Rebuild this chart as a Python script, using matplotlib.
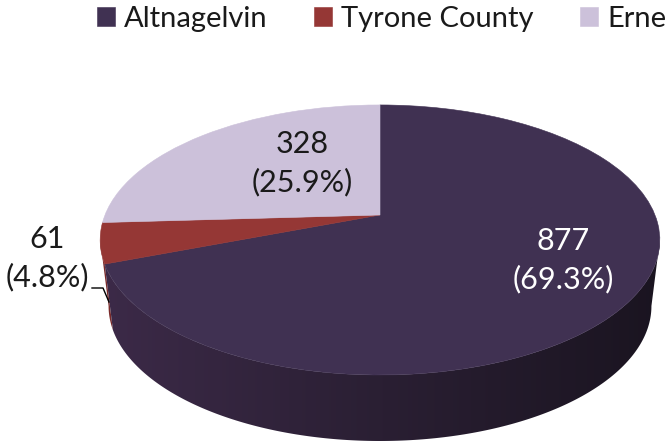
import numpy as np
import matplotlib
matplotlib.use("Agg")
import matplotlib.pyplot as plt
from matplotlib.colors import LinearSegmentedColormap
from matplotlib.patches import Polygon
from matplotlib.transforms import Transform

hospitals = ["Altnagelvin", "Tyrone County", "Erne"]
counts = [877, 61, 328]
percents = ["69.3%", "4.8%", "25.9%"]
face_colors = ["#403152", "#953735", "#CCC1DA"]

plt.rcParams["font.family"] = ["Lato", "DejaVu Sans"]

# pie centre and tilt, in picture pixels
CX, CY = 380, 215
RX, RY, K = 275, 130.4, 0.185
DEPTH, SHRINK = 66, 0.97


def project(u, v):
    x = CX + RX * u / (1 - K * v)
    y = CY + RY * v / (1 - K * v)
    return x, y


class Tilt(Transform):
    input_dims = 2
    output_dims = 2

    def transform_non_affine(self, values):
        values = np.asarray(values)
        x, y = project(values[:, 0], -values[:, 1])
        return np.column_stack([x, y])


def wall_outline(start, stop):
    angles = np.linspace(start, stop, 200)
    x, y = project(np.sin(angles), -np.cos(angles))
    low_x = CX + SHRINK * (x - CX)
    low_y = y + DEPTH
    return np.column_stack([np.r_[x, low_x[::-1]], np.r_[y, low_y[::-1]]])


fig = plt.figure(figsize=(6.67, 4.42), dpi=100)
ax = fig.add_axes([0, 0, 1, 1])

wedges, _ = ax.pie(counts, colors=face_colors, startangle=90, counterclock=False,
                   wedgeprops={"linewidth": 0.4, "zorder": 3})

tilt = Tilt()
for w, c in zip(wedges, face_colors):
    w.set_edgecolor(c)
    w.set_transform(tilt + ax.transData)


# ------------------------------------------------------------
# side wall, one left to right gradient clipped to the rim shape
# ------------------------------------------------------------
edges = np.cumsum([0] + counts) / np.sum(counts) * 2 * np.pi
wall_cmaps = [
    LinearSegmentedColormap.from_list("wall0", ["#3C2A48", "#2A1F33", "#1A1420"]),
    LinearSegmentedColormap.from_list("wall1", ["#7A2A2A", "#7A2A2A"]),
]
ramp = np.linspace(0, 1, 256).reshape(1, -1)

# only the part of the rim facing the viewer shows a wall
first_visible = np.arccos(-K)
last_visible = 2 * np.pi - first_visible

# Tyrone first, the Altnagelvin wall sits on top of it
for i in [1, 0]:
    start = max(edges[i], first_visible)
    stop = min(edges[i + 1], last_visible)
    im = ax.imshow(ramp, cmap=wall_cmaps[i], extent=(100, 665, 442, 200), aspect="auto",
                   zorder=2 + (0.1 if i == 0 else 0))
    clip = Polygon(wall_outline(start, stop), closed=True, transform=ax.transData)
    im.set_clip_path(clip)

ax.set_aspect("auto")
ax.set_xlim(0, 667)
ax.set_ylim(442, 0)
ax.axis("off")


# ------------------------------------------------------------
# labels + legend
# ------------------------------------------------------------
label_pos = [(563, 260), (47, 258), (302, 163)]
label_colors = ["white", "#1a1a1a", "#1a1a1a"]
for n, p, pos, c in zip(counts, percents, label_pos, label_colors):
    ax.text(pos[0], pos[1], f"{n}\n({p})", ha="center", va="center", color=c,
            fontsize=22, linespacing=1.42, zorder=5)

ax.plot([92, 103, 109], [288, 288, 302], color="black", linewidth=1, zorder=5)

ax.legend(wedges, hospitals, ncol=3, frameon=False, fontsize=21,
          loc="upper left", bbox_to_anchor=(94 / 667, 1 - 3 / 442), borderaxespad=0, borderpad=0.1,
          handlelength=0.62, handleheight=0.62, handletextpad=0.3, columnspacing=1.6,
          labelcolor="#1a1a1a")

fig.savefig("out.png", dpi=100)
